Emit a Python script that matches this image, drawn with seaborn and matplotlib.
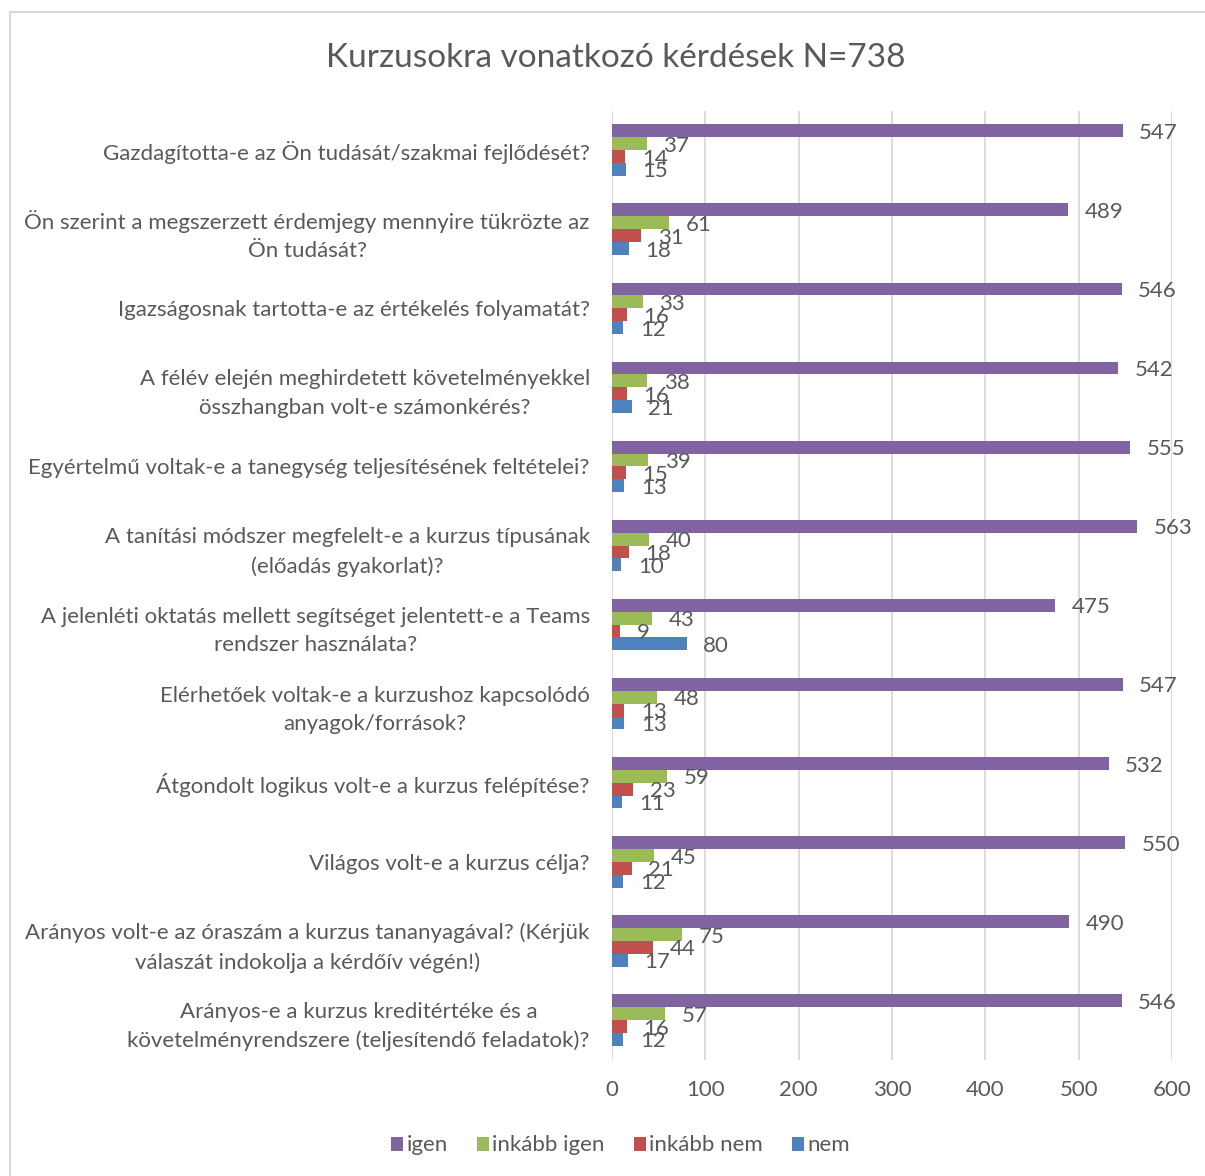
import matplotlib
matplotlib.use("Agg")
import matplotlib.pyplot as plt
import seaborn as sns
import pandas as pd
from matplotlib.patches import Rectangle

questions = [
    "Gazdagította-e az Ön tudását/szakmai fejlődését?",
    "Ön szerint a megszerzett érdemjegy mennyire tükrözte az\nÖn tudását?",
    "Igazságosnak tartotta-e az értékelés folyamatát?",
    "A félév elején meghirdetett követelményekkel\nösszhangban volt-e számonkérés?",
    "Egyértelmű voltak-e a tanegység teljesítésének feltételei?",
    "A tanítási módszer megfelelt-e a kurzus típusának\n(előadás gyakorlat)?",
    "A jelenléti oktatás mellett segítséget jelentett-e a Teams\nrendszer használata?",
    "Elérhetőek voltak-e a kurzushoz kapcsolódó\nanyagok/források?",
    "Átgondolt logikus volt-e a kurzus felépítése?",
    "Világos volt-e a kurzus célja?",
    "Arányos volt-e az óraszám a kurzus tananyagával? (Kérjük\nválaszát indokolja a kérdőív végén!)",
    "Arányos-e a kurzus kreditértéke és a\nkövetelményrendszere (teljesítendő feladatok)?",
]
series = ["igen", "inkább igen", "inkább nem", "nem"]
igen = [547, 489, 546, 542, 555, 563, 475, 547, 532, 550, 490, 546]
inkabb_igen = [37, 61, 33, 38, 39, 40, 43, 48, 59, 45, 75, 57]
inkabb_nem = [14, 31, 16, 16, 15, 18, 9, 13, 23, 21, 44, 16]
nem = [15, 18, 12, 21, 13, 10, 80, 13, 11, 12, 17, 12]
colors = ["#8064A2", "#9BBB59", "#C0504D", "#4F81BD"]
title = "Kurzusokra vonatkozó kérdések N=738"
xticks = [0, 100, 200, 300, 400, 500, 600]

rows = []
for vals, s in zip([igen, inkabb_igen, inkabb_nem, nem], series):
    for q, v in zip(questions, vals):
        rows.append({"question": q, "series": s, "value": v})
df = pd.DataFrame(rows)

sns.set_theme(style="white")
plt.rcParams["font.family"] = ["Lato", "DejaVu Sans"]
text_color = "#595959"
fs = 16

fig = plt.figure(figsize=(12.05, 11.76), dpi=100)
ax = fig.add_axes([0.5079, 0.099, 0.9726 - 0.5079, 0.906 - 0.099])

sns.barplot(data=df, y="question", x="value", hue="series", order=questions,
            hue_order=series, palette=colors, orient="h", width=0.65,
            linewidth=0, saturation=1, ax=ax, legend=True, errorbar=None)

for cont in ax.containers:
    texts = ax.bar_label(cont, padding=12, fontsize=fs, color=text_color)
    for t in texts:
        t.xyann = (12, -1.5)

ax.set_xlim(0, 600)
ax.set_xticks(xticks)
ax.set_xlabel("")
ax.set_ylabel("")
for sp in ax.spines.values():
    sp.set_visible(False)
ax.xaxis.grid(True, color="#D9D9D9", linewidth=1.3)
ax.set_axisbelow(True)
ax.tick_params(axis="x", length=0, pad=15, labelsize=fs, labelcolor=text_color)
ax.tick_params(axis="y", length=0, pad=16, labelsize=fs, labelcolor=text_color)
for lbl in ax.get_yticklabels():
    lbl.set_multialignment("center")
    lbl.set_linespacing(1.55)

h, l = ax.get_legend_handles_labels()
ax.get_legend().remove()
fig.legend(h, l, loc="center", bbox_to_anchor=(0.515, 0.026), ncol=4, frameon=False,
           fontsize=fs, handlelength=0.55, handleheight=0.6, handletextpad=0.15,
           columnspacing=1.3, labelcolor=text_color)

fig.text(0.511, 0.951, title, ha="center", va="center", fontsize=24, color=text_color)

fig.patches.append(Rectangle((10 / 1205, -0.01), 1.1, 1 - 12 / 1176 + 0.01,
                             transform=fig.transFigure, fill=False,
                             edgecolor="#D9D9D9", linewidth=1.5))

fig.savefig("out.png", dpi=100)
